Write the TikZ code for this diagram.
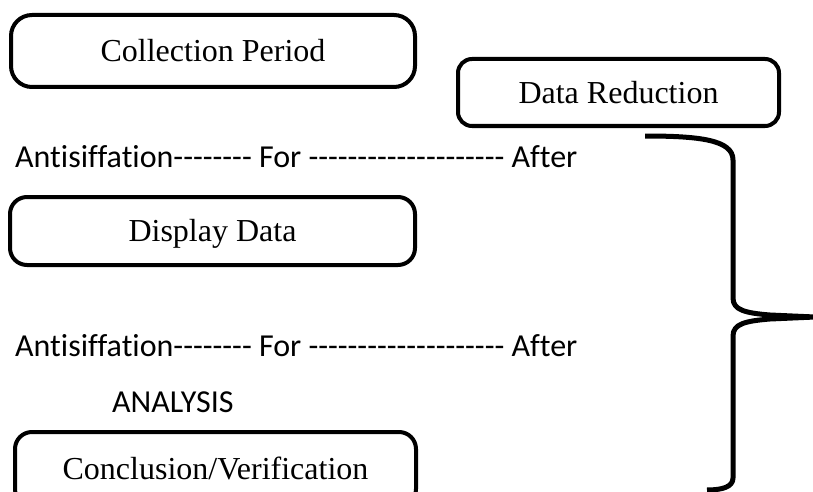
\documentclass[tikz,border=0pt]{standalone}
\usepackage{fontspec}
\setmainfont{Liberation Serif}
\newfontfamily\calib[Ligatures={NoCommon,NoRequired}]{Carlito}
\begin{document}
\begin{tikzpicture}[x=1pt,y=-1pt,
  box/.style={draw, line width=4pt, rounded corners=17pt,
    font=\fontsize{32}{38}\selectfont, text height=21pt, text depth=0pt,
    inner sep=0pt, anchor=center},
  lbl/.style={font=\calib\fontsize{32}{38}\selectfont, anchor=base west, inner sep=0pt},
  bracestyle/.style={line width=5pt, line join=round}]
\path[use as bounding box, clip] (0,0) rectangle (813,492);

\node[box, minimum width=404pt, minimum height=72pt, rounded corners=21pt] (cp) at (213,51) {Collection Period};
\node[box, minimum width=321pt, minimum height=67pt, rounded corners=14pt] (dr) at (618.5,92.5) {Data Reduction};
\node[box, minimum width=405pt, minimum height=68pt] (dd) at (212.5,231) {Display Data};
\node[box, minimum width=401pt, minimum height=74pt] (cv) at (215.5,469) {Conclusion/Verification};

\node[lbl] (l1) at (15,167) {Antisiffation-------- For -------------------- After};
\node[lbl] (l2) at (15,356) {Antisiffation-------- For -------------------- After};
\node[lbl] (an) at (112,412) {ANALYSIS};

\coordinate (btop) at (645,136);
\coordinate (btip) at (815,317);
\coordinate (bbot) at (707,490);
\draw[bracestyle] (btop) .. controls (700,136) and (733,140) .. (733,160)
  -- (733,298) .. controls (733,310) and (745,313) .. (770,315) -- (btip)
  -- (770,319) .. controls (745,321) and (733,324) .. (733,336)
  -- (733,478) .. controls (733,487) and (722,490) .. (bbot);
\end{tikzpicture}
\end{document}
